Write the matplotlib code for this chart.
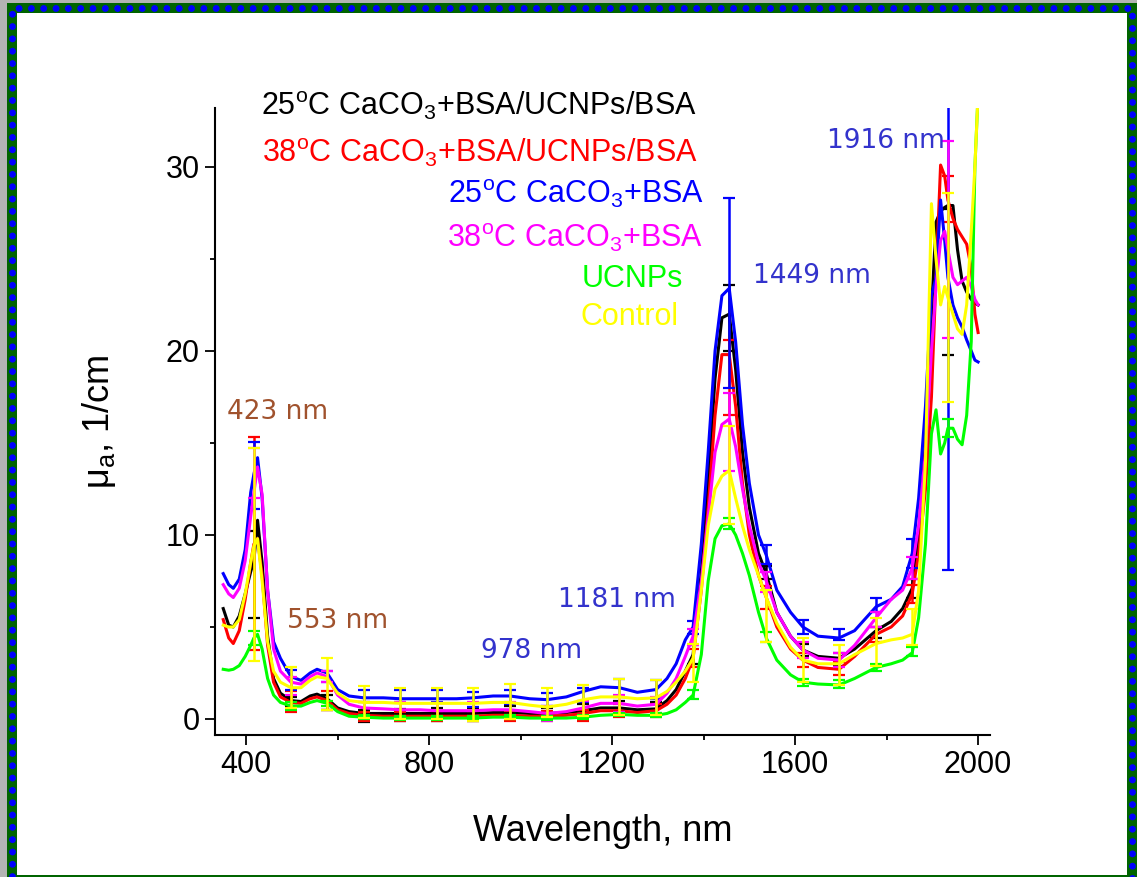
import numpy as np
import matplotlib
matplotlib.use("Agg")
import matplotlib.pyplot as plt
from matplotlib.patches import Rectangle

# Constants
FIG_W, FIG_H = 1137, 877  # pixels
DPI = 100

plt.rcParams["font.family"] = ["Liberation Sans", "DejaVu Sans"]
plt.rcParams["mathtext.fontset"] = "custom"
plt.rcParams["mathtext.rm"] = "Liberation Sans"
plt.rcParams["mathtext.it"] = "Liberation Sans:italic"
plt.rcParams["lines.scale_dashes"] = False

# Absorption spectra, wavelength in nm, mu_a in 1/cm
wavelength = [
    350, 362, 372, 385, 398, 410, 417, 425, 435, 447,
    460, 475, 498, 520, 540, 555, 577, 600, 625, 657,
    700, 737, 780, 817, 860, 896, 940, 977, 1020, 1058,
    1100, 1137, 1175, 1216, 1255, 1296, 1320, 1340, 1360, 1377,
    1395, 1410, 1425, 1440, 1456, 1470, 1485, 1500, 1520, 1537,
    1560, 1590, 1617, 1650, 1696, 1730, 1777, 1810, 1835, 1856,
    1870, 1885, 1898, 1908, 1918, 1927, 1934, 1945, 1955, 1965,
    1975, 1985, 1993, 2000,
]
mua_25_hybrid = [
    6.0, 5.1, 5.0, 5.6, 6.8, 8.0, 8.6, 10.8, 8.5, 4.5,
    2.2, 1.4, 1.0, 0.95, 1.25, 1.35, 1.1, 0.6, 0.4, 0.3,
    0.3, 0.3, 0.3, 0.3, 0.3, 0.3, 0.35, 0.35, 0.3, 0.3,
    0.35, 0.45, 0.6, 0.6, 0.5, 0.55, 1.0, 1.6, 2.6, 3.5,
    8.0, 13.0, 18.5, 21.8, 22.0, 19.0, 14.5, 11.5, 9.0, 7.9,
    5.8, 4.5, 3.75, 3.4, 3.3, 3.8, 4.8, 5.3, 6.0, 7.1,
    10.0, 15.0, 22.0, 27.0, 27.6, 27.8, 27.9, 27.9, 25.5, 23.8,
    23.2, 22.8, 22.6, 22.5,
]
mua_38_hybrid = [
    5.4, 4.4, 4.1, 4.8, 6.5, 8.5, 9.5, 9.8, 7.8, 4.0,
    2.0, 1.2, 0.9, 0.85, 1.1, 1.2, 1.0, 0.5, 0.3, 0.2,
    0.15, 0.15, 0.15, 0.15, 0.15, 0.15, 0.2, 0.2, 0.15, 0.15,
    0.2, 0.3, 0.45, 0.45, 0.35, 0.45, 0.8, 1.3, 2.2, 3.3,
    7.0, 11.5, 16.5, 19.8, 19.8, 17.0, 12.8, 10.0, 7.8, 6.6,
    5.0, 3.8, 3.2, 2.8, 2.7, 3.4, 4.6, 5.0, 5.6, 6.8,
    9.0, 12.5, 17.5, 24.0, 30.1, 29.5, 28.2, 27.2, 26.6, 26.2,
    25.8, 24.5, 22.0, 21.0,
]
mua_25_bsa = [
    7.9, 7.3, 7.1, 7.6, 9.2, 12.3, 13.3, 14.2, 12.0, 7.0,
    4.2, 3.3, 2.3, 2.1, 2.5, 2.7, 2.5, 1.6, 1.25, 1.15,
    1.15, 1.1, 1.1, 1.1, 1.1, 1.15, 1.25, 1.25, 1.1, 1.05,
    1.2, 1.5, 1.75, 1.7, 1.45, 1.6, 2.2, 3.0, 4.3, 5.0,
    9.5, 14.5, 20.0, 23.0, 23.4, 20.5, 16.0, 12.8, 10.0, 8.9,
    7.0, 5.8, 5.0, 4.5, 4.4, 4.8, 6.1, 6.5, 7.2, 9.0,
    12.0, 17.0, 23.0, 24.0, 28.2, 26.0, 24.0, 22.5, 21.8, 21.3,
    20.6, 20.0, 19.5, 19.4,
]
mua_38_bsa = [
    7.3, 6.8, 6.6, 7.1, 8.6, 11.0, 12.3, 13.7, 12.2, 7.0,
    3.8, 2.6, 2.0, 1.9, 2.3, 2.5, 2.3, 1.3, 0.8, 0.6,
    0.55, 0.5, 0.5, 0.45, 0.45, 0.45, 0.5, 0.5, 0.4, 0.3,
    0.4, 0.6, 0.85, 0.85, 0.7, 0.8, 1.4, 2.2, 3.4, 4.5,
    7.5, 11.0, 14.5, 16.0, 16.3, 14.8, 12.5, 10.5, 8.5, 7.5,
    5.8, 4.5, 3.75, 3.3, 3.2, 4.0, 5.5, 6.5, 7.0, 8.2,
    10.5, 14.5, 20.0, 23.5, 26.0, 26.5, 25.5, 24.0, 23.6, 23.8,
    24.0, 23.5, 22.8, 22.5,
]
mua_ucnps = [
    2.7, 2.65, 2.7, 2.9, 3.4, 4.0, 4.4, 4.6, 3.8, 2.2,
    1.3, 0.9, 0.7, 0.7, 0.9, 1.0, 0.85, 0.4, 0.15, 0.1,
    0.05, 0.05, 0.05, 0.05, 0.05, 0.05, 0.1, 0.1, 0.05, 0.05,
    0.05, 0.1, 0.2, 0.25, 0.2, 0.2, 0.3, 0.5, 0.9, 1.3,
    3.5, 7.5, 9.8, 10.5, 10.6, 10.0, 9.0, 7.8, 5.8, 4.4,
    3.2, 2.4, 2.0, 1.9, 1.85, 2.2, 2.8, 3.0, 3.2, 3.6,
    5.5, 9.5, 15.5, 16.8, 14.4, 15.0, 15.8, 15.8, 15.2, 14.9,
    16.5, 20.5, 30.0, 34.0,
]
mua_control = [
    5.1, 5.0, 5.0, 5.4, 6.8, 8.5, 9.4, 9.8, 7.5, 4.2,
    2.6, 2.0, 1.7, 1.7, 2.1, 2.3, 2.2, 1.4, 1.0, 0.9,
    0.9, 0.85, 0.85, 0.85, 0.85, 0.85, 0.9, 0.9, 0.75, 0.65,
    0.8, 1.05, 1.2, 1.2, 1.1, 1.15, 1.5, 2.0, 2.6, 3.3,
    7.0, 10.5, 12.5, 13.2, 13.5, 12.0, 10.5, 9.2, 7.8, 6.6,
    5.2, 3.9, 3.2, 3.0, 3.0, 3.5, 4.1, 4.3, 4.4, 4.6,
    7.0, 14.0, 28.0, 25.0, 22.5, 23.5, 22.9, 22.0, 21.2, 20.9,
    22.5, 26.5, 30.0, 34.0,
]

# Error bars: lower / upper ends at the measured wavelengths
err_wavelength = [417, 498, 577, 657, 737, 817, 896, 977, 1058, 1137,
                  1216, 1296, 1377, 1456, 1537, 1617, 1696, 1777, 1856, 1934]
err_lo_25_hybrid = [5.5, 0.7, 0.5, -0.15, -0.1, -0.1, -0.1, 0.0, -0.05, 0.0,
                    0.2, 0.2, 3.0, 20.0, 7.6, 3.4, 2.9, 4.4, 6.6, 19.8]
err_hi_25_hybrid = [10.2, 1.2, 1.3, 0.5, 0.55, 0.6, 0.6, 0.7, 0.6, 0.8,
                    1.0, 0.95, 4.0, 23.6, 8.3, 4.1, 3.6, 5.0, 7.6, 27.7]
err_lo_38_hybrid = [3.75, 0.4, 0.5, -0.1, -0.1, -0.1, -0.1, -0.1, -0.1, -0.1,
                    0.1, 0.1, 2.8, 16.5, 6.0, 2.8, 2.4, 4.2, 6.3, 27.0]
err_hi_38_hybrid = [15.3, 1.5, 1.5, 0.4, 0.4, 0.45, 0.45, 0.45, 0.45, 0.5,
                    0.8, 0.8, 3.8, 20.6, 7.2, 3.6, 3.1, 5.0, 7.3, 29.5]
err_lo_25_bsa = [11.4, 1.6, 2.0, 0.9, 0.9, 0.9, 0.65, 0.8, 0.7, 0.9,
                 1.2, 1.1, 4.6, 18.0, 8.4, 4.6, 4.3, 5.8, 8.2, 8.1]
err_hi_25_bsa = [15.05, 2.65, 2.6, 1.55, 1.55, 1.55, 1.45, 1.6, 1.4, 1.7,
                 2.2, 2.1, 5.3, 28.3, 9.45, 5.4, 4.9, 6.6, 9.8, 40.0]
err_lo_38_bsa = [12.0, 1.3, 2.0, 0.1, 0.1, 0.05, 0.0, 0.05, -0.1, 0.2,
                 0.4, 0.3, 4.0, 13.5, 6.9, 3.3, 2.8, 5.0, 7.6, 20.7]
err_hi_38_bsa = [14.7, 2.3, 2.6, 0.9, 0.9, 0.85, 0.9, 0.95, 0.7, 1.0,
                 1.3, 1.2, 4.9, 17.7, 8.0, 4.2, 3.6, 5.8, 8.8, 31.4]
err_lo_ucnps = [4.0, 0.5, 0.7, 0.0, -0.05, -0.05, -0.05, 0.0, -0.05, 0.0,
                0.15, 0.1, 1.1, 10.3, 4.2, 1.8, 1.7, 2.6, 3.4, 15.3]
err_hi_ucnps = [4.8, 0.9, 1.0, 0.2, 0.15, 0.15, 0.15, 0.2, 0.15, 0.2,
                0.35, 0.3, 1.6, 10.9, 4.7, 2.2, 2.1, 3.0, 3.9, 16.3]
err_lo_control = [3.15, 0.6, 0.5, 0.05, 0.0, 0.0, -0.1, 0.0, 0.1, 0.15,
                  0.2, 0.2, 2.0, 10.6, 4.2, 2.0, 1.85, 2.9, 4.0, 17.2]
err_hi_control = [14.7, 2.8, 3.3, 1.8, 1.7, 1.7, 1.7, 1.9, 1.7, 1.85,
                  2.2, 2.1, 4.1, 15.9, 7.0, 4.4, 4.0, 5.5, 6.0, 28.6]

series_labels = [
    r"25$^{\rm o}$C CaCO$_{\rm 3}$+BSA/UCNPs/BSA",
    r"38$^{\rm o}$C CaCO$_{\rm 3}$+BSA/UCNPs/BSA",
    r"25$^{\rm o}$C CaCO$_{\rm 3}$+BSA",
    r"38$^{\rm o}$C CaCO$_{\rm 3}$+BSA",
    "UCNPs",
    "Control",
]

peak_labels = ["423 nm", "553 nm", "978 nm", "1181 nm", "1449 nm", "1916 nm"]
peak_label_x = [468, 599, 1025, 1211, 1637, 1799]
peak_label_y = [16.3, 4.95, 3.3, 6.1, 23.7, 31.0]

COLORS = ["black", "#ff0000", "#0000ff", "#ff00ff", "#00ff00", "#ffff00"]
PEAK_COLORS = ["#a0522d", "#a0522d", "#3333cc", "#3333cc", "#3333cc", "#3333cc"]


def fx(px):
    return px / FIG_W


def fy(py):
    # py measured from the top of the image
    return 1 - py / FIG_H


fig = plt.figure(figsize=(FIG_W / DPI, FIG_H / DPI), dpi=DPI, facecolor="#b4b4b4")

# Frame: green band with blue dots
frame_box = (fx(12), fy(880), fx(1132) - fx(12), fy(7.5) - fy(880))
fig.add_artist(Rectangle(frame_box[:2], frame_box[2], frame_box[3],
                         transform=fig.transFigure, facecolor="white",
                         edgecolor="#006400", linewidth=7.2, zorder=0))
fig.add_artist(Rectangle(frame_box[:2], frame_box[2], frame_box[3],
                         transform=fig.transFigure, facecolor="none",
                         edgecolor="#0000ff", linewidth=5.0,
                         linestyle=(0, (0.01, 8.86)), capstyle="round", zorder=0.5))

ax = fig.add_axes([fx(215), fy(735), fx(990) - fx(215), fy(108) - fy(735)])
ax.patch.set_alpha(0)

all_series = [mua_25_hybrid, mua_38_hybrid, mua_25_bsa, mua_38_bsa, mua_ucnps, mua_control]
all_lo = [err_lo_25_hybrid, err_lo_38_hybrid, err_lo_25_bsa, err_lo_38_bsa, err_lo_ucnps, err_lo_control]
all_hi = [err_hi_25_hybrid, err_hi_38_hybrid, err_hi_25_bsa, err_hi_38_bsa, err_hi_ucnps, err_hi_control]

for vals, lo, hi, color in zip(all_series, all_lo, all_hi, COLORS):
    ax.plot(wavelength, vals, color=color, linewidth=2.2)
    lo = np.array(lo)
    hi = np.array(hi)
    ax.errorbar(err_wavelength, (lo + hi) / 2, yerr=(hi - lo) / 2, fmt="none",
                ecolor=color, elinewidth=1.8, capsize=4, capthick=1.6)

for text, x, y, color in zip(peak_labels, peak_label_x, peak_label_y, PEAK_COLORS):
    ax.text(x, y, text, color=color, fontsize=19, family="DejaVu Sans",
            ha="center", va="baseline")

# Legend written as coloured text lines
legend_right = [697, 698, 704, 703, 683, 678]
legend_base = [115, 162, 203, 247, 287, 325]
for text, color, xr, yb in zip(series_labels, COLORS, legend_right, legend_base):
    fig.text(fx(xr), fy(yb), text, color=color, fontsize=22, ha="right", va="baseline")

ax.set_xlim(332, 2026)
ax.set_ylim(-0.87, 33.2)
ax.set_xticks([400, 800, 1200, 1600, 2000])
ax.set_xticks(np.arange(600, 2000, 400), minor=True)
ax.set_yticks([0, 10, 20, 30])
ax.set_yticks([5, 15, 25], minor=True)

for side in ["top", "right"]:
    ax.spines[side].set_visible(False)
for side in ["left", "bottom"]:
    ax.spines[side].set_linewidth(1.5)

ax.tick_params(which="major", direction="out", length=7, width=1.3, labelsize=22, pad=4)
ax.tick_params(which="minor", direction="out", length=3.5, width=1.3)

ax.set_xlabel("Wavelength, nm", fontsize=26, labelpad=24)
ax.set_ylabel(r"μ$_{\rm a}$, 1/cm", fontsize=26, labelpad=34)

fig.savefig("out.png", dpi=DPI)
